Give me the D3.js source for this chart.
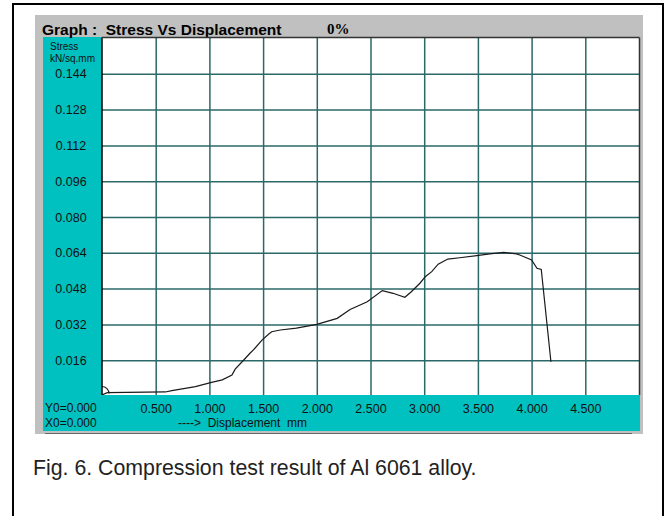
<!DOCTYPE html>
<html>
<head>
<meta charset="utf-8">
<script src="https://cdn.jsdelivr.net/npm/d3@7"></script>
<style>
  body { margin: 0; background: #fff; }
  svg { display: block; }
</style>
</head>
<body>
<div id="chart"></div>
<script>
// values
var dispMM = [0, 0.05, 0.59, 0.65, 0.87, 1.02, 1.12, 1.21, 1.24, 1.32,
    1.38, 1.41, 1.49, 1.55, 1.58, 1.66, 1.81, 2.00, 2.19, 2.31,
    2.47, 2.61, 2.71, 2.82, 2.88, 2.96, 3.01, 3.07, 3.13, 3.22,
    3.33, 3.49, 3.61, 3.74, 3.86, 3.89, 4.00, 4.05, 4.09, 4.18];
var stress = [0.0005, 0.0015, 0.0018, 0.0024, 0.0042, 0.0061, 0.0072, 0.0094, 0.012, 0.0161,
    0.0192, 0.0206, 0.025, 0.0276, 0.0287, 0.0295, 0.0303, 0.032, 0.0347, 0.0387,
    0.0421, 0.0471, 0.0459, 0.0441, 0.0466, 0.0504, 0.0533, 0.0556, 0.0589, 0.0612,
    0.0618, 0.0627, 0.0635, 0.0642, 0.0635, 0.063, 0.0608, 0.0571, 0.0566, 0.0153];
var xTicks = [0.5, 1.0, 1.5, 2.0, 2.5, 3.0, 3.5, 4.0, 4.5];
var yTicks = [0.016, 0.032, 0.048, 0.064, 0.080, 0.096, 0.112, 0.128, 0.144];

var W = 668, H = 516;
var teal = "#00c0c0", gray = "#c0c0c0", gridCol = "#2b6868";
var plot = { left: 102, right: 639.5, top: 37.5, bottom: 395 };

var svg = d3.select("#chart").append("svg")
    .attr("width", W)
    .attr("height", H)
    .style("font-family", "'Liberation Sans', Arial, sans-serif");

// outer frame
svg.append("rect")
    .attr("x", 13).attr("y", 4)
    .attr("width", 650).attr("height", 530)
    .attr("fill", "#fff").attr("stroke", "#000").attr("stroke-width", 2);

// grey window + teal panels
svg.append("rect").attr("x", 35).attr("y", 15).attr("width", 608).attr("height", 419).attr("fill", gray);
svg.append("line").attr("x1", 45).attr("x2", 632).attr("y1", 433.5).attr("y2", 433.5)
    .attr("stroke", "#666").attr("stroke-width", 1);
svg.append("rect").attr("x", 43).attr("y", 37).attr("width", 59).attr("height", 394).attr("fill", teal);
svg.append("rect").attr("x", 43).attr("y", 395).attr("width", 597).attr("height", 36).attr("fill", teal);
svg.append("rect")
    .attr("x", plot.left).attr("y", plot.top)
    .attr("width", plot.right - plot.left).attr("height", plot.bottom - plot.top)
    .attr("fill", "#fff");

// title bar
svg.append("text")
    .attr("x", 42).attr("y", 35)
    .style("font-size", "15.5px").style("font-weight", "bold")
    .attr("xml:space", "preserve")
    .text("Graph :  Stress Vs Displacement");
svg.append("text")
    .attr("x", 327).attr("y", 34)
    .style("font-family", "'Liberation Serif', 'Times New Roman', serif")
    .style("font-size", "15px").style("font-weight", "bold")
    .text("0%");

// scales
var x = d3.scaleLinear().domain([0, 5]).range([plot.left, 639]);
var y = d3.scaleLinear().domain([0, 0.16]).range([396, 38]);

svg.append("clipPath").attr("id", "plotClip")
    .append("rect")
    .attr("x", plot.left).attr("y", plot.top)
    .attr("width", plot.right - plot.left).attr("height", plot.bottom - plot.top);

var g = svg.append("g").attr("clip-path", "url(#plotClip)");

// grid lines
g.append("g")
    .attr("transform", "translate(0," + plot.bottom + ")")
    .call(d3.axisBottom(x).tickValues(xTicks).tickSize(-(plot.bottom - plot.top)).tickFormat(""))
    .call(function (a) { a.select(".domain").remove(); })
    .selectAll("line").attr("stroke", gridCol).attr("stroke-width", 1.5);
g.append("g")
    .attr("transform", "translate(" + plot.left + ",0)")
    .call(d3.axisLeft(y).tickValues(yTicks).tickSize(-(plot.right - plot.left)).tickFormat(""))
    .call(function (a) { a.select(".domain").remove(); })
    .selectAll("line").attr("stroke", gridCol).attr("stroke-width", 1.5);

// plot borders
svg.append("line").attr("x1", plot.left).attr("x2", plot.left).attr("y1", plot.top).attr("y2", plot.bottom)
    .attr("stroke", "#000").attr("stroke-width", 1.5);
svg.append("line").attr("x1", plot.left).attr("x2", plot.right).attr("y1", plot.top).attr("y2", plot.top)
    .attr("stroke", "#333").attr("stroke-width", 1.5);
svg.append("line").attr("x1", plot.right).attr("x2", plot.right).attr("y1", plot.top).attr("y2", plot.bottom)
    .attr("stroke", "#333").attr("stroke-width", 1.5);

// origin marker (quarter circle)
g.append("path")
    .attr("transform", "translate(" + x(0) + "," + (y(0) - 2.5) + ")")
    .attr("d", d3.arc().innerRadius(7).outerRadius(7).startAngle(0).endAngle(Math.PI / 2)())
    .attr("fill", "none").attr("stroke", "#222").attr("stroke-width", 1.2);

// curve
var line = d3.line()
    .x(function (d) { return x(d[0]); })
    .y(function (d) { return y(d[1]); });
g.append("path")
    .datum(d3.zip(dispMM, stress))
    .attr("d", line)
    .attr("fill", "none")
    .attr("stroke", "#1a1a1a")
    .attr("stroke-width", 1.2);

// y tick labels
var yAxis = svg.append("g")
    .attr("transform", "translate(71,0)")
    .call(d3.axisLeft(y).tickValues(yTicks).tickSize(0).tickPadding(0).tickFormat(d3.format(".3f")));
yAxis.select(".domain").remove();
yAxis.selectAll("text")
    .attr("text-anchor", "middle")
    .attr("x", 0)
    .style("font-family", "'Liberation Sans', Arial, sans-serif")
    .style("font-size", "12.5px")
    .attr("fill", "#111");

// x tick labels
var xAxis = svg.append("g")
    .attr("transform", "translate(0," + plot.bottom + ")")
    .call(d3.axisBottom(x).tickValues(xTicks).tickSize(0).tickFormat(d3.format(".3f")));
xAxis.select(".domain").remove();
xAxis.selectAll("text")
    .attr("y", 18).attr("dy", 0)
    .style("font-family", "'Liberation Sans', Arial, sans-serif")
    .style("font-size", "12.5px")
    .attr("fill", "#111");

// axis captions
svg.append("clipPath").attr("id", "leftClip")
    .append("rect").attr("x", 43).attr("y", 37).attr("width", 58.5).attr("height", 40);
var unit = svg.append("g").attr("clip-path", "url(#leftClip)")
    .style("font-size", "10px").attr("fill", "#111");
unit.append("text").attr("x", 50).attr("y", 49.5).text("Stress");
unit.append("text").attr("x", 50).attr("y", 61.5).text("kN/sq.mm");

svg.append("text").attr("x", 45).attr("y", 412)
    .style("font-size", "12px").attr("fill", "#111").text("Y0=0.000");
svg.append("text").attr("x", 45).attr("y", 427)
    .style("font-size", "12px").attr("fill", "#111").text("X0=0.000");
svg.append("text").attr("x", 178).attr("y", 427)
    .attr("xml:space", "preserve")
    .style("font-size", "12px").attr("fill", "#111").text("---->  Displacement  mm");

// figure caption
svg.append("text")
    .attr("x", 33).attr("y", 475)
    .style("font-family", "Arial, 'Liberation Sans', sans-serif")
    .style("font-size", "21.3px")
    .attr("fill", "#222")
    .text("Fig. 6. Compression test result of Al 6061 alloy.");
</script>
</body>
</html>
